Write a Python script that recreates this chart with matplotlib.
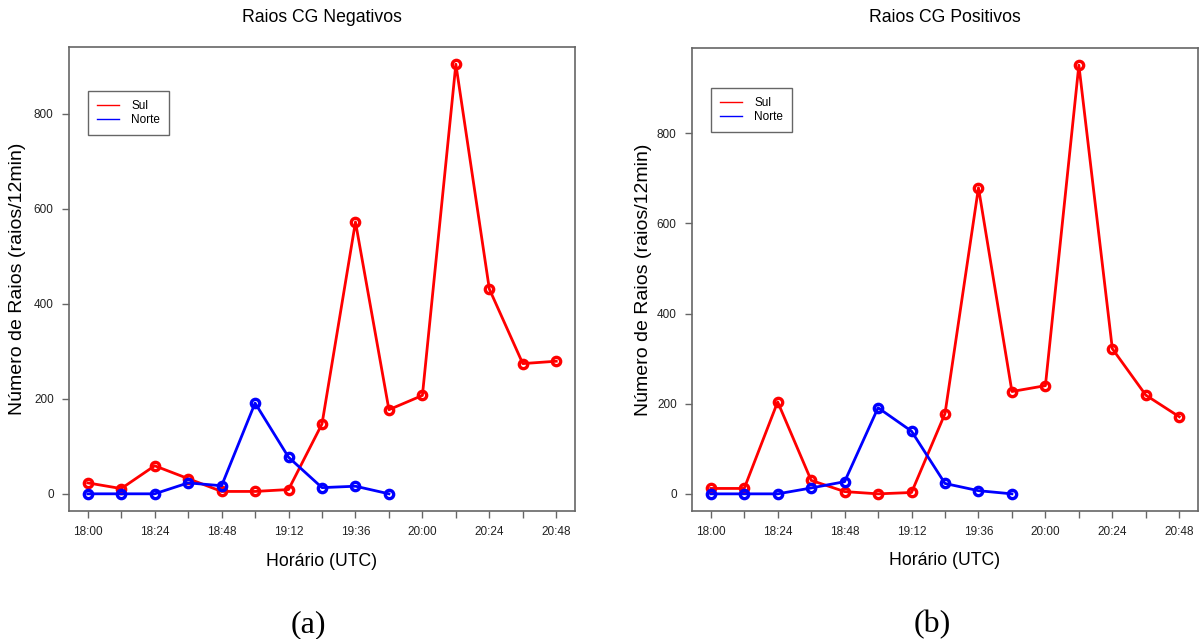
import numpy as np
import matplotlib
matplotlib.use("Agg")
import matplotlib.pyplot as plt

# horarios a cada 12 min
horarios = ["18:00", "18:12", "18:24", "18:36", "18:48", "19:00", "19:12", "19:24",
            "19:36", "19:48", "20:00", "20:12", "20:24", "20:36", "20:48"]

# (a) raios CG negativos
neg_sul = [23, 11, 59, 32, 5, 5, 9, 147, 572, 177, 207, 904, 431, 274, 279]
neg_norte = [0, 0, 0, 23, 17, 191, 77, 13, 16, 0]

# (b) raios CG positivos
pos_sul = [12, 12, 204, 30, 5, 0, 3, 178, 679, 227, 240, 951, 322, 219, 171]
pos_norte = [0, 0, 0, 13, 27, 191, 139, 23, 7, 0]

titulos = ["Raios CG Negativos", "Raios CG Positivos"]
letras = ["(a)", "(b)"]
yticks = [0, 200, 400, 600, 800]

plt.rcParams['font.family'] = ['Liberation Sans', 'DejaVu Sans']
FRAME = "#666666"


def painel(fig, rect, sul, norte, titulo, letra, leg_pos, ylab_x, letra_x):
    ax = fig.add_axes(rect)
    x = np.arange(len(horarios))
    ax.plot(x, sul, color="red", lw=2.0, marker="o", ms=6, mfc="none", mew=2.4, zorder=3)
    ax.plot(x[:len(norte)], norte, color="blue", lw=2.0, marker="o", ms=6, mfc="none", mew=2.4, zorder=3)

    # extensao de 4% estilo R
    n = len(horarios) - 1
    ax.set_xlim(-0.04 * n, n + 0.04 * n)
    ymax = max(sul)
    ax.set_ylim(-0.04 * ymax, ymax * 1.04)

    ax.set_xticks(x)
    ax.set_xticklabels([h if i % 2 == 0 else "" for i, h in enumerate(horarios)])
    ax.set_yticks(yticks)
    ax.tick_params(labelsize=8.5, length=5, width=1, color=FRAME, labelcolor="#222222", pad=6)
    for s in ax.spines.values():
        s.set_color(FRAME)
        s.set_linewidth(1.2)

    # titulo e rotulos em coordenadas fixas
    cx = rect[0] + rect[2] / 2
    fig.text(cx, 1 - 17 / 639, titulo, ha="center", va="center", fontsize=12.7)
    ax.set_xlabel("Horário (UTC)", fontsize=12.7)
    ax.xaxis.set_label_coords(0.5, -50 / 464)
    ax.xaxis.label.set_va("center")
    ax.set_ylabel("Número de Raios (raios/12min)", fontsize=14)
    ax.yaxis.set_label_coords(ylab_x, 0.5)
    ax.yaxis.label.set_va("center")

    h1, = ax.plot([], [], color="red", lw=1.0)
    h2, = ax.plot([], [], color="blue", lw=1.0)
    leg = ax.legend([h1, h2], ["Sul", "Norte"], loc="upper left", bbox_to_anchor=leg_pos,
                    fontsize=8.5, fancybox=False, framealpha=1, edgecolor=FRAME,
                    handlelength=1.9, handletextpad=1.0, borderpad=0.75, labelspacing=0.2,
                    borderaxespad=0)
    leg.get_frame().set_linewidth(1.0)

    fig.text(letra_x / 1200, 1 - 625 / 639, letra, ha="center", va="center", fontsize=23,
             family="Liberation Serif")
    return ax


fig = plt.figure(figsize=(12, 6.39), dpi=100)
painel(fig, [69 / 1200, 128 / 639, 506 / 1200, 464 / 639], neg_sul, neg_norte,
       titulos[0], letras[0], (19 / 506, 420 / 464), -51 / 506, 308)
painel(fig, [692 / 1200, 128 / 639, 506 / 1200, 463 / 639], pos_sul, pos_norte,
       titulos[1], letras[1], (19 / 506, 423 / 463), -49 / 506, 932)

fig.savefig("out.png", dpi=100, facecolor="white")
